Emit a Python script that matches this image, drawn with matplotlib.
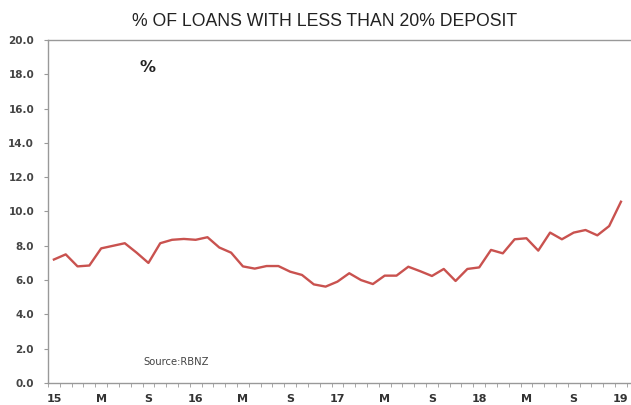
import matplotlib
matplotlib.use("Agg")
import matplotlib.pyplot as plt
import numpy as np

values = [7.2, 7.5, 6.8, 6.85, 7.85, 8.0, 8.15, 7.6, 7.0, 8.15, 8.35, 8.4,
          8.35, 8.5, 7.9, 7.6, 6.8, 6.67, 6.82, 6.82, 6.49, 6.3, 5.75, 5.62,
          5.91, 6.4, 6.0, 5.77, 6.26, 6.26, 6.78, 6.52, 6.24, 6.65, 5.95, 6.65,
          6.74, 7.76, 7.56, 8.38, 8.44, 7.72, 8.77, 8.38, 8.77, 8.92, 8.61, 9.15,
          10.57]
tick_labels = ["15", "M", "S", "16", "M", "S", "17", "M", "S", "18", "M", "S", "19"]
y_ticks = [0, 2, 4, 6, 8, 10, 12, 14, 16, 18, 20]

plt.rcParams['font.family'] = ['Liberation Sans', 'DejaVu Sans']

fig = plt.figure(figsize=(6.31, 4.05), dpi=100)
ax = fig.add_axes([48/631, 1 - 383/405, 1 - 48/631, (383 - 40)/405])

x = np.arange(len(values))
ax.plot(x, values, color="#C9524F", lw=1.7, solid_joinstyle='round')

ax.set_xlim(-0.5, 48.85)
ax.set_ylim(0, 20)

grey = "#999999"
for s in ["left", "bottom", "top"]:
    ax.spines[s].set_color(grey)
    ax.spines[s].set_linewidth(1.0)
ax.spines["right"].set_visible(False)

ytick_font = dict(family='DejaVu Sans', size=7.5, weight='bold')
xtick_font = dict(family='DejaVu Sans', size=8, weight='bold')

ax.set_yticks(y_ticks)
ax.set_yticklabels([f"{v:.1f}" for v in y_ticks], fontdict=ytick_font, color="#444444")
ax.tick_params(axis='y', direction='out', length=3, color=grey, pad=7)

ax.set_xticks(np.arange(0, 49, 4))
ax.set_xticklabels(tick_labels, fontdict=xtick_font, color="#333333")
ax.set_xticks(np.arange(-0.5, 49, 1), minor=True)
ax.tick_params(axis='x', which='major', length=0, pad=8)
ax.tick_params(axis='x', which='minor', direction='out', length=3, color=grey)

fig.text(325/631, 1 - 21/405, "% OF LOANS WITH LESS THAN 20% DEPOSIT", ha='center', va='center',
         fontsize=12.7, color="#222222")
fig.text(147.5/631, 1 - 68/405, "%", ha='center', va='center',
         fontsize=11.5, fontweight='bold', family='DejaVu Sans', color="#222222")
fig.text(143/631, 1 - 362/405, "Source:RBNZ", ha='left', va='center',
         fontsize=7.2, family='DejaVu Sans', color="#444444")

fig.savefig("out.png", dpi=100)
